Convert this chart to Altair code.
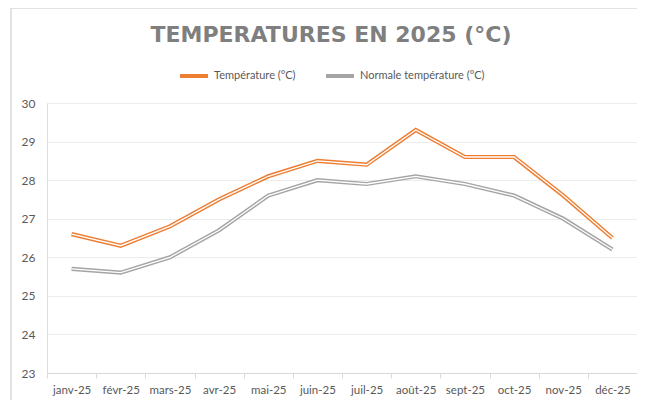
import altair as alt
import pandas as pd

months = ["janv-25", "févr-25", "mars-25", "avr-25", "mai-25", "juin-25",
          "juil-25", "août-25", "sept-25", "oct-25", "nov-25", "déc-25"]
temperature = [26.6, 26.3, 26.8, 27.5, 28.1, 28.5, 28.4, 29.3, 28.6, 28.6, 27.6, 26.5]
normale = [25.7, 25.6, 26.0, 26.7, 27.6, 28.0, 27.9, 28.1, 27.9, 27.6, 27.0, 26.2]
series_names = ["Température (°C)", "Normale température (°C)"]
colors = ["#ED7D31", "#A5A5A5"]
y_ticks = [23, 24, 25, 26, 27, 28, 29, 30]
title_text = "TEMPERATURES EN 2025 (°C)"

rows = []
for name, vals in zip(series_names, [temperature, normale]):
    for m, v in zip(months, vals):
        rows.append({"month": m, "series": name, "value": v})
df = pd.DataFrame(rows)

FONT = "Lato"
LABEL_COLOR = "#595959"

x_enc = alt.X(
    "month:N", sort=months, bandPosition=0.5,
    scale=alt.Scale(type="band", paddingInner=0, paddingOuter=0),
    axis=alt.Axis(title=None, labelAngle=0, tickBand="extent", ticks=True, tickSize=5,
                  tickColor="#d9d9d9", domainColor="#d9d9d9", labelColor=LABEL_COLOR,
                  labelFont=FONT, labelFontSize=11.5, labelPadding=6, grid=False,
                  labelOverlap=False),
)
y_enc = alt.Y(
    "value:Q",
    scale=alt.Scale(domain=[23, 30], nice=False, zero=False),
    axis=alt.Axis(title=None, values=y_ticks, ticks=False,
                  domain=False, gridColor="#ececec", labelColor=LABEL_COLOR,
                  labelFont=FONT, labelFontSize=12, labelPadding=12,
                  labelOverlap=False),
)

one = pd.DataFrame({"title": [title_text]})

# light frame (top and left edges) around the chart (decoration)
frame_top = alt.Chart(one).mark_rule(stroke="#d9d9d9", strokeWidth=1.5, clip=False).encode(
    x=alt.value(-36), x2=alt.value(600), y=alt.value(-95))
frame_left = alt.Chart(one).mark_rule(stroke="#d9d9d9", strokeWidth=1.5, clip=False).encode(
    x=alt.value(-36), y=alt.value(-95), y2=alt.value(340))

title = alt.Chart(one).mark_text(
    font="DejaVu Sans", fontSize=22, fontWeight="bold", color="#7f7f7f",
    align="center", baseline="middle"
).encode(text="title:N", x=alt.value(284), y=alt.value(-68))

outer = alt.Chart(df).mark_line(strokeWidth=4.2, strokeJoin="miter").encode(
    x=x_enc, y=y_enc,
    color=alt.Color("series:N", sort=series_names,
                    scale=alt.Scale(domain=series_names, range=colors),
                    legend=alt.Legend(title=None, orient="none", direction="horizontal",
                                      legendX=131, legendY=-43,
                                      symbolType="stroke", symbolStrokeWidth=4,
                                      symbolSize=784, labelFont=FONT, labelFontSize=11,
                                      labelColor=LABEL_COLOR, labelOffset=4,
                                      columnPadding=22)),
)
inner = alt.Chart(df).mark_line(strokeWidth=1.3, color="white", strokeJoin="miter").encode(
    x=x_enc, y=y_enc,
    detail="series:N",
)

chart = alt.layer(frame_top, frame_left, title, outer, inner).properties(
    width=590, height=270,
    autosize=alt.AutoSizeParams(type="none"),
    padding={"left": 39, "top": 95, "right": 0, "bottom": 30},
).configure_view(stroke=None).configure(background="white")

chart.save("out.html", embed_options={"renderer": "svg", "actions": False})
